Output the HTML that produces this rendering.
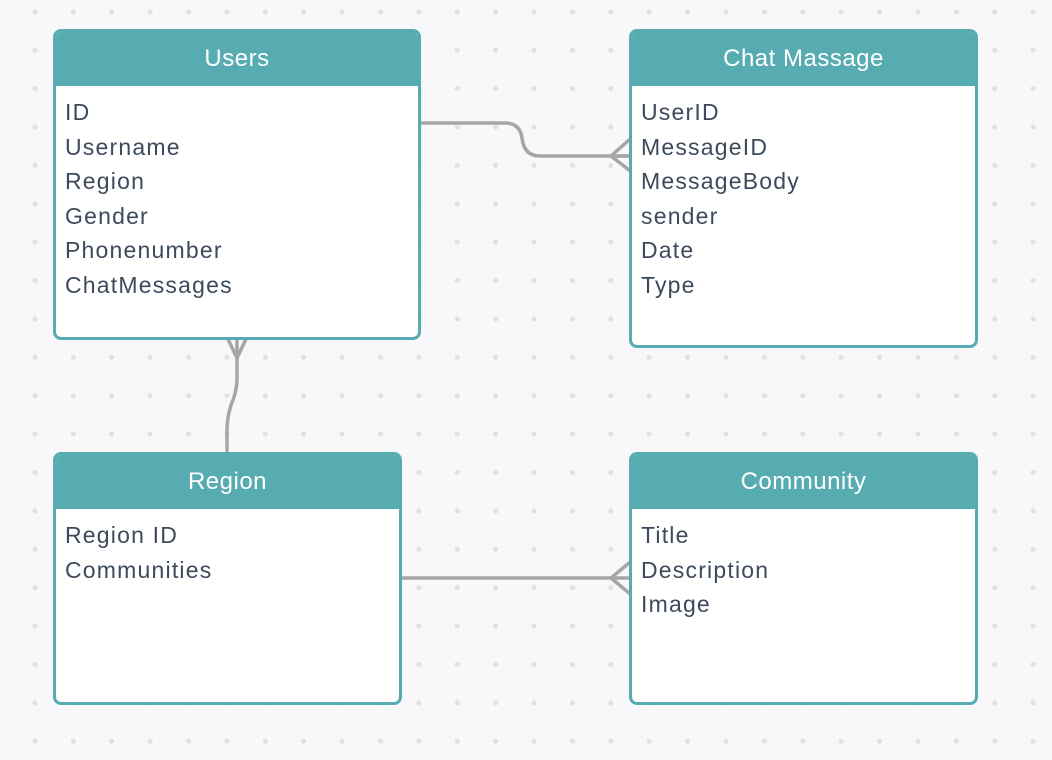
<!DOCTYPE html>
<html><head><style>
body{margin:0;width:1052px;height:760px;overflow:hidden;background:#f8f8fa;font-family:"Liberation Sans",sans-serif;}
.bg{position:absolute;left:0;top:0;width:1052px;height:760px;background-image:radial-gradient(circle,#e0e0e4 2.2px,transparent 2.8px);background-size:38.4px 38.4px;background-position:15.8px -7.4px;}
.box{position:absolute;background:#fff;border:3px solid #56acb0;border-radius:8px;box-sizing:border-box;overflow:hidden;}
.hd{background:#56acb0;height:55px;color:#fff;font-size:24px;letter-spacing:0.5px;text-align:center;line-height:55px;margin:-1px;}
.rows{padding:10px 0 0 9px;color:#3d4a5c;font-size:23px;letter-spacing:1.2px;line-height:34.6px;}
svg{position:absolute;left:0;top:0;}
</style></head><body>
<div class="bg"></div>
<svg width="1052" height="760" fill="none" stroke="#a6a6a6" stroke-width="3.5" stroke-linecap="round">
<path d="M420 123 H505 Q520 123 522 138 Q524 156 540 156 H629"/>
<path d="M629 140 L611 156 L629 170 M611 156 H629"/>
<path d="M401 578 H629"/>
<path d="M629 563 L611 578 L629 593"/>
<path d="M237 339 V378 Q237 392 231 405 Q227 418 227 430 V452"/>
<path d="M228 339 L237 358 L246 339"/>
</svg>
<div class="box" style="left:53px;top:29px;width:368px;height:311px"><div class="hd">Users</div><div class="rows">ID<br>Username<br>Region<br>Gender<br>Phonenumber<br>ChatMessages</div></div>
<div class="box" style="left:629px;top:29px;width:349px;height:319px"><div class="hd">Chat Massage</div><div class="rows">UserID<br>MessageID<br>MessageBody<br>sender<br>Date<br>Type</div></div>
<div class="box" style="left:53px;top:452px;width:349px;height:253px"><div class="hd">Region</div><div class="rows">Region ID<br>Communities</div></div>
<div class="box" style="left:629px;top:452px;width:349px;height:253px"><div class="hd">Community</div><div class="rows">Title<br>Description<br>Image</div></div>
</body></html>
